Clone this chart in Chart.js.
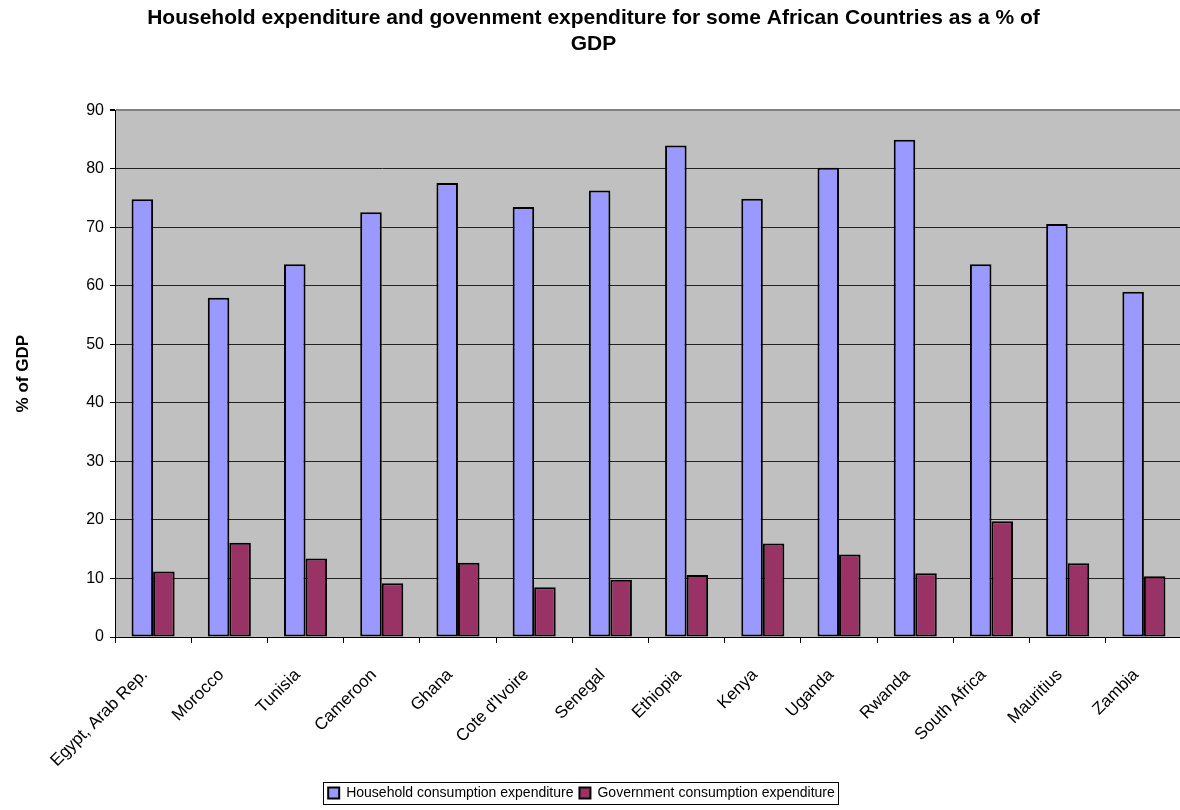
<!DOCTYPE html>
<html lang="en">
<head>
    <meta charset="UTF-8">
    <title>Household and government expenditure</title>
    <script src="https://cdn.jsdelivr.net/npm/chart.js"></script>
    <style>
        html, body { margin: 0; padding: 0; background: #fff; overflow: hidden; }
        #wrap { width: 1185px; height: 810px; }
    </style>
</head>
<body>
    <div id="wrap">
        <canvas id="expChart" width="1185" height="810"></canvas>
    </div>
    <script>
        const countries = ['Egypt, Arab Rep.', 'Morocco', 'Tunisia', 'Cameroon', 'Ghana', "Cote d'Ivoire",
            'Senegal', 'Ethiopia', 'Kenya', 'Uganda', 'Rwanda', 'South Africa', 'Mauritius', 'Zambia'];
        const household = [74.8, 58.0, 63.7, 72.6, 77.6, 73.5, 76.3, 84.0, 74.9, 80.2, 85.0, 63.7, 70.6, 59.0];
        const government = [11.2, 16.1, 13.4, 9.2, 12.7, 8.5, 9.8, 10.6, 16.0, 14.1, 10.9, 19.8, 12.6, 10.4];
        const yTicks = [0, 10, 20, 30, 40, 50, 60, 70, 80, 90];

        const FONT = '"Liberation Sans", Arial, sans-serif';

        // grey plot background, legend nudged left, and a box round the legend
        const plotBg = {
            id: 'plotBg',
            afterLayout(chart) {
                chart.legend.left -= 24;
            },
            beforeDraw(chart) {
                const a = chart.chartArea, ctx = chart.ctx;
                ctx.save();
                ctx.fillStyle = '#c0c0c0';
                ctx.fillRect(a.left, a.top, a.right - a.left, a.bottom - a.top);
                ctx.restore();
            },
            afterDraw(chart) {
                const boxes = chart.legend.legendHitBoxes;
                if (!boxes || !boxes.length) return;
                let l = Infinity, t = Infinity, r = -Infinity, b = -Infinity;
                boxes.forEach(h => {
                    l = Math.min(l, h.left); t = Math.min(t, h.top);
                    r = Math.max(r, h.left + h.width); b = Math.max(b, h.top + h.height);
                });
                const ctx = chart.ctx;
                ctx.save();
                ctx.strokeStyle = '#000';
                ctx.lineWidth = 1;
                ctx.strokeRect(Math.round(l - 5) + 0.5, Math.round(t - 4) + 0.5, Math.round(r - l + 8), Math.round(b - t + 8));
                ctx.restore();
            }
        };

        const ctx = document.getElementById('expChart').getContext('2d');
        new Chart(ctx, {
            type: 'bar',
            data: {
                labels: countries,
                datasets: [{
                    label: 'Household consumption expenditure',
                    data: household,
                    backgroundColor: '#9999ff',
                    borderColor: '#000',
                    borderWidth: 2,
                    borderSkipped: false
                }, {
                    label: 'Government consumption expenditure',
                    data: government,
                    backgroundColor: '#993366',
                    borderColor: '#000',
                    borderWidth: 2,
                    borderSkipped: false
                }]
            },
            options: {
                responsive: false,
                animation: false,
                layout: { padding: { left: 5, right: 3, top: 0, bottom: 0 } },
                datasets: {
                    bar: { categoryPercentage: 0.565, barPercentage: 1.0 }
                },
                plugins: {
                    title: {
                        display: true,
                        text: ['Household expenditure and govenment expenditure for some African Countries as a % of', 'GDP'],
                        font: { family: FONT, size: 21, weight: 'bold', lineHeight: 1.2 },
                        color: '#000',
                        padding: { top: 6, bottom: 54 }
                    },
                    legend: {
                        display: true,
                        position: 'bottom',
                        labels: {
                            font: { family: FONT, size: 14 },
                            color: '#000',
                            boxWidth: 11,
                            boxHeight: 11,
                            padding: 6
                        }
                    },
                    tooltip: { enabled: false }
                },
                scales: {
                    x: {
                        grid: { drawOnChartArea: false, drawTicks: true, tickLength: 6, color: '#000', offset: true },
                        border: { display: true, color: '#000', width: 1 },
                        ticks: {
                            font: { family: FONT, size: 17 },
                            color: '#000',
                            maxRotation: 45,
                            minRotation: 45,
                            padding: 22,
                            labelOffset: -8
                        },
                        afterFit(scale) { scale.height = 143; }
                    },
                    y: {
                        min: 0,
                        max: 90,
                        afterBuildTicks(scale) { scale.ticks = yTicks.map(v => ({ value: v })); },
                        grid: {
                            color: c => (c.tick && c.tick.value === 90 ? '#808080' : '#222'),
                            lineWidth: c => (c.tick && c.tick.value === 90 ? 2 : 1),
                            drawTicks: true,
                            tickLength: 5,
                            tickColor: '#000'
                        },
                        border: { display: true, color: '#000', width: 1 },
                        ticks: {
                            font: { family: FONT, size: 16 },
                            color: '#000',
                            padding: 6
                        },
                        title: {
                            display: true,
                            text: '% of GDP',
                            font: { family: FONT, size: 17, weight: 'bold' },
                            color: '#000',
                            padding: { top: 8, bottom: 28 }
                        },
                        afterFit(scale) { scale.width = 110; }
                    }
                }
            },
            plugins: [plotBg]
        });
    </script>
</body>
</html>
